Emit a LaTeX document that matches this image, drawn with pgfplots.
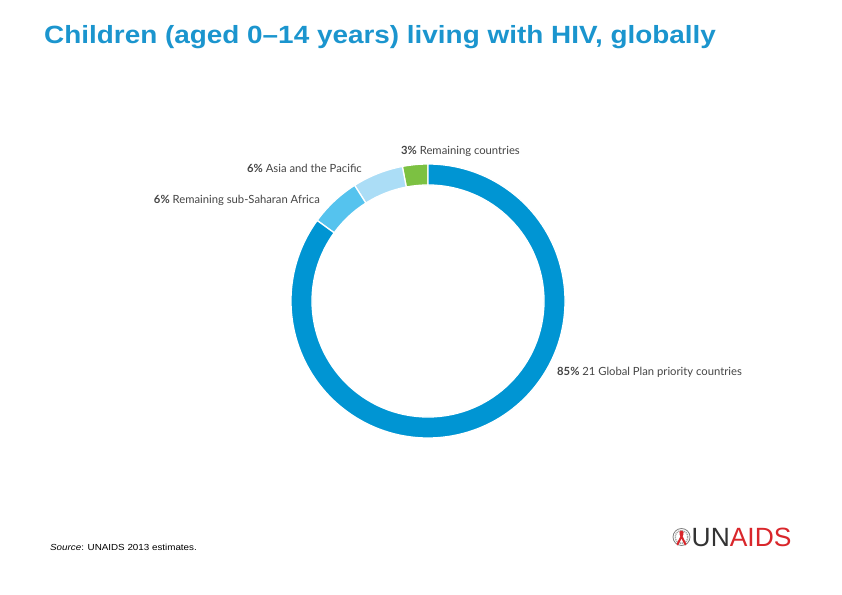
\documentclass[border=0pt]{standalone}
\usepackage{pgfplots}
\pgfplotsset{compat=1.18}
\usepackage{fontspec}
\setmainfont{Liberation Sans}
\newfontfamily\titlefont[FakeStretch=1.12]{Liberation Sans}
\newfontfamily\lab{Lato}
\definecolor{titleblue}{HTML}{1B95CE}
\definecolor{segA}{HTML}{7CC142}
\definecolor{segB}{HTML}{ABDDF6}
\definecolor{segC}{HTML}{55C3EE}
\definecolor{segD}{HTML}{0095D3}
\definecolor{labgray}{HTML}{444444}
\definecolor{unred}{HTML}{D9262B}
\definecolor{undark}{HTML}{333333}
\pgfdeclareplotmark{nothing}{}
\begin{document}
\begin{tikzpicture}
\begin{axis}[
  scale only axis, width=842bp, height=595bp,
  xmin=0, xmax=842, ymin=0, ymax=595,
  hide axis, clip=false,
]
\path (axis cs:0,0) rectangle (axis cs:842,595);
% donut data: share (%) of children living with HIV, cumulative start in %
\addplot[
  scatter, only marks, mark=nothing,
  visualization depends on={value \thisrow{start} \as \pstart},
  visualization depends on={value \thisrow{value} \as \pval},
  visualization depends on={value \thisrow{cid} \as \pcid},
  scatter/@pre marker code/.code={%
    \pgfmathsetmacro\aone{90+3.6*\pstart}%
    \pgfmathsetmacro\atwo{90+3.6*(\pstart+\pval)}%
    \filldraw[fill=seg\pcid, draw=white, line width=1.3pt]
      (\aone:137bp) arc[start angle=\aone, end angle=\atwo, radius=137bp]
      -- (\atwo:116bp) arc[start angle=\atwo, end angle=\aone, radius=116bp]
      -- cycle;
  },
  scatter/@post marker code/.code={},
] table[x=cx, y=cy] {
cx  cy  start value cid
428 294 0     3     A
428 294 3     6     B
428 294 9     6     C
428 294 15    85    D
};

% title
\node[anchor=base west, inner sep=0pt, text=titleblue, font=\titlefont\bfseries\fontsize{25}{29}\selectfont]
  at (axis cs:44,551.3) {Children (aged 0–14 years) living with HIV, globally};

% labels
\node[anchor=base west, inner sep=0pt, text=labgray, font=\lab\fontsize{11.3}{13}\selectfont]
  at (axis cs:401,440.7) {{\bfseries 3\%} Remaining countries};
\node[anchor=base east, inner sep=0pt, text=labgray, font=\lab\fontsize{11.3}{13}\selectfont]
  at (axis cs:362,422.3) {{\bfseries 6\%} Asia and the Pacific};
\node[anchor=base east, inner sep=0pt, text=labgray, font=\lab\fontsize{11.3}{13}\selectfont]
  at (axis cs:320,391.7) {{\bfseries 6\%} Remaining sub-Saharan Africa};
\node[anchor=base west, inner sep=0pt, text=labgray, font=\lab\fontsize{11.3}{13}\selectfont]
  at (axis cs:557,219.3) {{\bfseries 85\%} 21 Global Plan priority countries};

% source
\node[anchor=base west, inner sep=0pt, text=black, font=\titlefont\fontsize{8.8}{10}\selectfont]
  at (axis cs:50,44) {\textit{Source}: UNAIDS 2013 estimates.};

% logo
\draw[gray, line width=0.8pt] (axis cs:681.5,58) circle[radius=8.5bp];
\draw[gray!70, line width=1.4pt, dash pattern=on 1.2pt off 0.8pt] (axis cs:681.5,58) circle[radius=6.3bp];
\draw[unred, line width=2pt, line cap=round]
  (axis cs:677.5,50.5) -- (axis cs:682.3,60.5)
  .. controls (axis cs:684,64) and (axis cs:679,64.5) .. (axis cs:680.7,60.5)
  -- (axis cs:685.5,50.5);
\node[anchor=base west, inner sep=0pt, font=\fontsize{26.5}{30}\selectfont]
  at (axis cs:691.5,48) {\textcolor{undark}{UN}\textcolor{unred}{AIDS}};
\end{axis}
\end{tikzpicture}
\end{document}
